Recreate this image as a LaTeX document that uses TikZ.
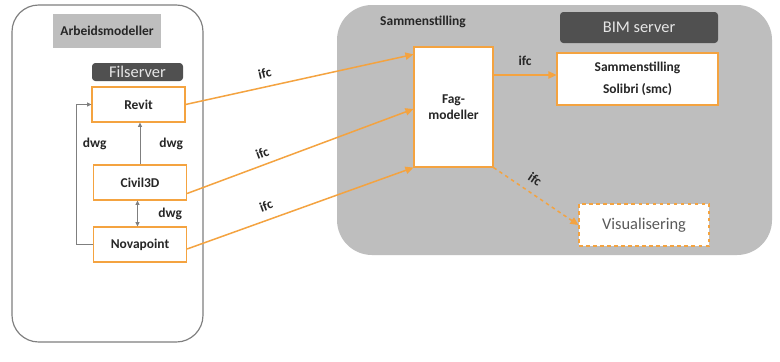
\documentclass[tikz,border=0pt]{standalone}
\usepackage{fontspec}
\setmainfont{Carlito}
\usepackage{xcolor}
\usetikzlibrary{calc, arrows.meta}

\definecolor{boxorange}{HTML}{F4A340}
\definecolor{areagray}{HTML}{BEBEBE}
\definecolor{servergray}{HTML}{505050}
\definecolor{servertext}{HTML}{E6E6E6}
\definecolor{linegray}{HTML}{7F7F7F}
\definecolor{textdark}{HTML}{262626}
\definecolor{textgray}{HTML}{595959}

\tikzset{
  modelbox/.style={rectangle, draw=boxorange, line width=0.35mm, fill=white, align=center, inner sep=0pt, text=textdark, font=\fontsize{11.5}{13.5}\selectfont\bfseries},
  serverbox/.style={rectangle, rounded corners=1mm, fill=servergray, inner sep=0pt, text=servertext, font=\fontsize{14}{16}\selectfont},
  ifcarrow/.style={draw=boxorange, line width=0.45mm, -{Triangle[length=2.4mm, width=2.2mm]}},
  dwgarrow/.style={draw=linegray, line width=0.25mm, -{Triangle[length=1.3mm, width=1.2mm]}},
  flowlabel/.style={text=textdark, font=\fontsize{11.5}{13.5}\selectfont\bfseries},
}

\begin{document}
\begin{tikzpicture}[x=0.3mm, y=-0.3mm]

        \useasboundingbox [fill=white] (0,0) rectangle (780,361);

        %% Areas
        \draw [draw=linegray, line width=0.35mm, rounded corners=8mm] (12,5) rectangle (203,342);
        \fill [areagray, rounded corners=10.5mm] (337,5) rectangle (772,255);

        %% Area labels
        \node (arbeid) [fill=areagray, minimum width=32.4mm, minimum height=10.2mm, inner sep=0pt, flowlabel] at (107,31) {Arbeidsmodeller};
        \node (samlabel) [anchor=west, inner sep=0pt, flowlabel] at (380,22) {Sammenstilling};

        %% Servers
        \node (filserver) [serverbox, minimum width=27.3mm, minimum height=5.4mm] at (137.5,72) {Filserver};
        \node (bimserver) [serverbox, minimum width=47.4mm, minimum height=9.3mm] at (639,27.5) {BIM server};

        %% Tools
        \node (revit) [modelbox, minimum width=27.9mm, minimum height=10.5mm] at (138.5,104.5) {Revit};
        \node (civil) [modelbox, minimum width=27.9mm, minimum height=10.5mm] at (140,182.5) {Civil3D};
        \node (nova) [modelbox, minimum width=27.9mm, minimum height=10.5mm] at (140,244.5) {Novapoint};

        %% Models
        \node (fag) [modelbox, minimum width=23.7mm, minimum height=36mm] at (453.5,107) {Fag-\\modeller};
        \node (solibri) [modelbox, minimum width=48.3mm, minimum height=15.6mm, font=\fontsize{11.5}{18.5}\selectfont\bfseries] at (637.5,79) {Sammenstilling\\Solibri (smc)};
        \node (visual) [modelbox, dashed, minimum width=39mm, minimum height=12.6mm, text=textgray, font=\fontsize{14}{16}\selectfont] at (644,225) {Visualisering};

        %% dwg links
        \draw [dwgarrow] (civil.north) -- (civil.north |- revit.south) node [flowlabel, midway, right=4.5mm] {dwg};
        \draw [dwgarrow, {Triangle[length=1.3mm, width=1.2mm]}-{Triangle[length=1.3mm, width=1.2mm]}] ($(civil.south) + (-2.5,0)$) -- ($(nova.north) + (-2.5,0)$) node [flowlabel, midway, right=5mm] {dwg};
        \draw [dwgarrow] (nova.west) -- ++(-17,0) |- (revit.west) node [flowlabel, pos=0.36, right=0.8mm] {dwg};

        %% ifc links
        \draw [ifcarrow] (revit.east) -- ($(fag.north west) + (0,8)$) node [flowlabel, pos=0.36, above=1.2mm, sloped] {ifc};
        \draw [ifcarrow] ($(civil.east) + (0,11)$) -- ($(fag.west) + (0,2)$) node [flowlabel, pos=0.35, above=0.6mm, sloped] {ifc};
        \draw [ifcarrow] ($(nova.east) + (0,4.5)$) -- (fag.south west) node [flowlabel, pos=0.37, above=1.4mm, sloped] {ifc};
        \draw [ifcarrow] ($(fag.east) + (0,-32)$) -- (solibri.west |- {$(fag.east) + (0,-32)$}) node [flowlabel, midway, above=1.3mm] {ifc};
        \draw [ifcarrow, dashed] (fag.south east) -- (visual.west) node [flowlabel, pos=0.4, above=1.2mm, sloped] {ifc};

\end{tikzpicture}
\end{document}
